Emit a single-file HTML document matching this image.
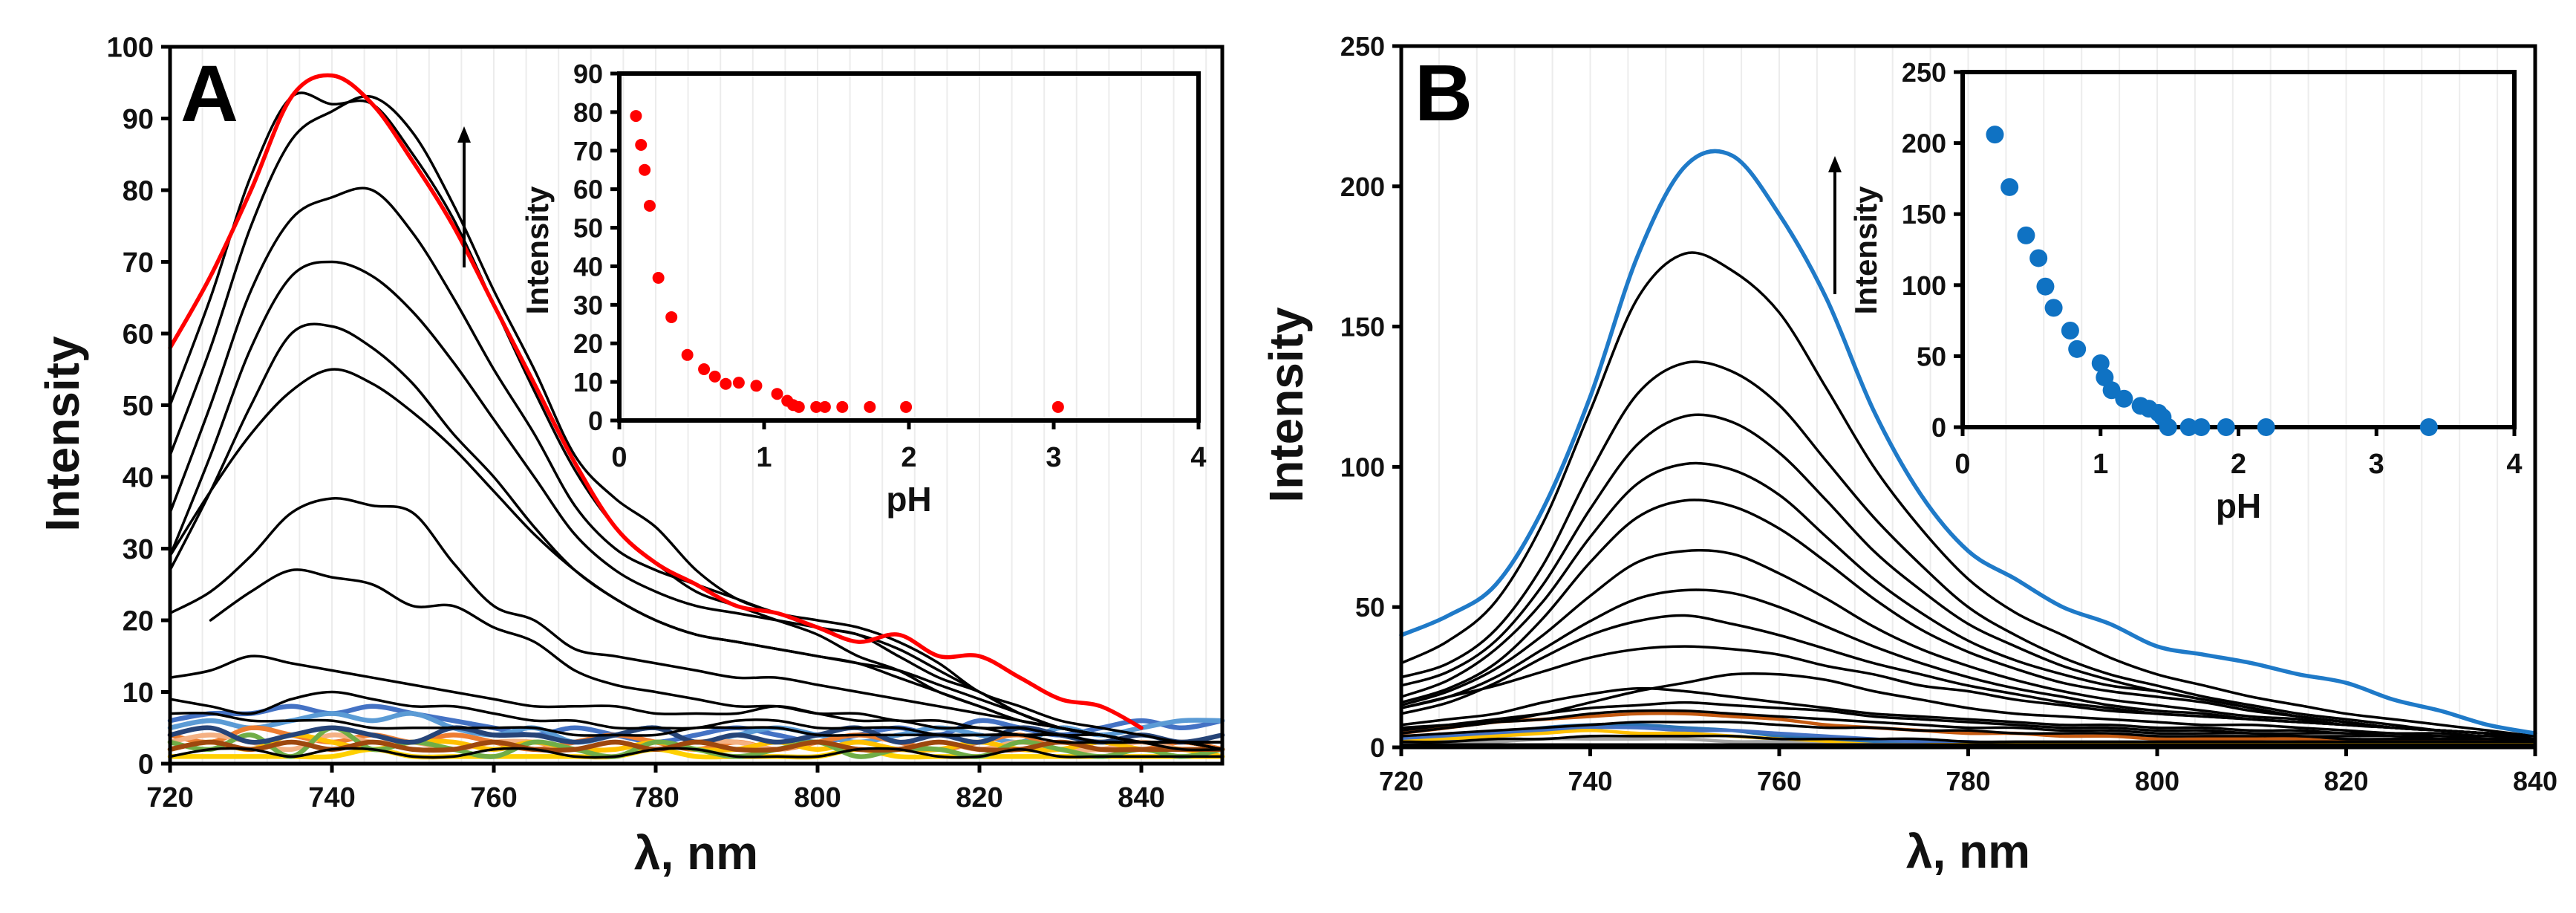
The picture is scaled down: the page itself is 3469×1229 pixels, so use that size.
<!DOCTYPE html>
<html><head><meta charset="utf-8"><style>
html,body{margin:0;padding:0;background:#fff;}
svg{display:block;font-family:"Liberation Sans",Arial,sans-serif;font-weight:bold;}
</style></head><body>
<svg id="fig" width="3469" height="1229" viewBox="0 0 3469 1229" xmlns="http://www.w3.org/2000/svg">
<g id="gA"></g>
<g id="gB"></g>
</svg>
<script>
// ---------- Panel A data ----------
const wlA = [720,725,730,735,740,745,750,755,760,765,770,775,780,785,790,795,800,805,810,815,820,825,830,835,840,845,850];
const redA = [58,68,80,93,96,92,84,75,64,53,42,33,28,25,22,21,19,17,18,15,15,12,9,8,5,null,null];
const blackA = [
 [50,65,82,93,92,92,85,76,64,52,41,33,28,24,22,20,18,15,13,10,8,6,5,4,3,3,2],
 [43,58,75,87,91,93,88,78,66,55,43,37,33,27,23,21,19,18,15,12,10,7,5,4,3,3,3],
 [35,50,66,76,79,80,74,65,55,46,36,30,27,25,23,21,20,19,17,14,10,8,6,5,4,3,3],
 [29,43,58,68,70,68,63,56,48,40,32,27,24,22,21,20,19,18,16,13,10,7,5,4,3,3,3],
 [27,38,50,60,61,58,53,46,40,33,27,23,20,18,17,16,15,14,13,11,9,7,5,4,3,3,2],
 [29,38,46,52,55,53,49,44,38,32,27,23,20,18,17,16,15,14,12,10,8,6,5,4,3,2,2],
 [21,24,29,35,37,36,35,28,22,20,16,15,14,13,12,12,11,10,9,8,7,6,5,4,3,3,2],
 [null,20,24,27,26,25,22,22,19,17,13,11,10,9,8,8,7,7,6,6,5,5,4,4,3,3,2],
 [12,13,15,14,13,12,11,10,9,8,8,8,7,7,7,8,7,6,6,5,5,4,4,3,3,3,3],
 [9,8,7,9,10,9,8,8,7,6,6,5,5,5,6,6,5,5,5,4,4,4,4,3,3,3,3],
 [7,7,6,6,6,5,5,5,5,5,4,4,4,5,5,5,4,4,4,4,4,4,3,3,3,3,3],
 [1,2,2,1,2,2,1,1,2,2,1,1,2,2,1,1,1,2,2,1,1,2,1,1,1,1,1]
];
const colorA = [
 [6,7,7,8,7,8,7,6,5,4,5,4,3,4,5,4,3,4,5,4,6,5,4,5,6,5,6],
 [5,6,5,6,7,6,7,5,4,5,3,4,5,3,4,5,4,3,4,5,4,3,5,4,5,6,6],
 [4,3,5,4,3,4,3,4,3,2,3,4,3,2,3,2,3,4,3,2,3,4,2,3,2,3,2],
 [3,4,3,2,4,3,3,2,3,3,2,3,2,3,3,2,3,2,2,3,2,3,2,2,3,2,2],
 [2,3,2,4,3,2,3,3,2,3,2,2,3,2,2,3,2,3,2,2,3,2,2,3,2,2,1],
 [1,1,1,1,1,2,1,1,1,1,1,1,2,1,1,1,1,2,1,1,1,1,1,1,1,1,1],
 [3,2,4,1,5,2,3,2,1,3,2,1,3,2,1,2,3,1,2,2,1,3,2,1,2,1,2],
 [4,5,3,4,5,4,3,5,4,4,3,4,5,3,4,3,4,5,3,4,3,5,4,3,4,3,4],
 [2,3,2,3,2,3,2,2,3,2,2,3,2,3,2,2,3,2,2,3,2,2,3,2,2,2,2]
];
const colorAcols = ['#4472c4','#5b9bd5','#ed7d31','#f4b183','#ffc000','#ffd000','#70ad47','#264478','#9e480e'];
const insetApH = [0.115,0.15,0.175,0.21,0.27,0.36,0.47,0.585,0.66,0.735,0.825,0.946,1.09,1.16,1.20,1.24,1.36,1.42,1.54,1.73,1.98,3.03];
const insetAI = [79,71.5,65,55.7,37,26.8,17,13.3,11.4,9.5,9.8,9,6.9,5.1,4,3.5,3.5,3.5,3.5,3.5,3.5,3.5];
const xTicksA = [720,740,760,780,800,820,840];
const yTicksA = [0,10,20,30,40,50,60,70,80,90,100];
const insetXTicks = [0,1,2,3,4];
const insetYTicksA = [0,10,20,30,40,50,60,70,80,90];

// ---------- Panel B data ----------
const wlB = [720,725,730,735,740,745,750,755,760,765,770,775,780,785,790,795,800,805,810,815,820,825,830,835,840];
const blueB = [40,47,58,85,125,175,207,211,190,160,120,90,70,60,50,44,36,33,30,26,23,17,13,8,5];
const blackB = [
 [30,38,52,80,120,160,176,170,155,128,100,78,60,48,40,32,26,22,18,15,12,10,8,6,4],
 [25,30,42,65,98,126,137,134,122,102,82,65,50,40,32,26,22,18,15,12,10,8,6,5,4],
 [22,27,38,58,85,108,118,116,105,88,70,56,44,36,29,24,20,17,14,11,9,7,6,5,4],
 [18,24,35,52,75,94,101,99,90,75,60,48,38,31,26,22,20,17,14,11,9,7,6,5,4],
 [16,21,30,46,66,82,88,86,78,66,53,42,34,28,23,20,18,16,13,11,9,7,6,5,4],
 [15,20,28,40,54,66,70,69,62,53,43,35,29,24,20,17,15,13,11,10,8,7,6,5,4],
 [14,18,25,35,45,53,56,55,50,43,36,30,25,21,18,15,13,12,10,9,8,7,6,5,4],
 [12,16,23,32,40,45,47,44,40,35,30,26,22,19,16,14,12,11,10,9,8,7,6,5,4],
 [14,18,22,27,32,35,36,35,33,29,26,22,20,17,15,13,12,11,10,9,8,7,6,5,4],
 [5,7,9,12,16,20,23,26,26,24,20,17,14,12,11,10,9,8,8,7,6,5,5,4,4],
 [8,10,12,16,19,21,20,18,16,14,12,11,10,9,8,8,7,7,6,6,5,5,4,4,3],
 [6,8,10,12,14,15,16,15,14,13,11,10,9,8,7,7,6,6,5,5,5,4,4,3,3],
 [7,8,9,10,12,13,13,12,11,10,9,8,7,7,6,6,5,5,5,4,4,4,3,3,3],
 [4,5,6,7,8,9,9,9,8,7,7,6,6,5,5,5,4,4,4,4,3,3,3,3,2],
 [2,2,3,3,4,4,4,4,3,3,3,3,2,2,2,2,2,2,2,2,2,2,2,2,2],
 [1,1,1,1,1,1,1,1,1,1,1,1,1,1,1,1,1,1,1,1,1,1,1,1,1]
];
const colorB = [
 [5,7,9,10,11,12,12,11,10,8,7,6,5,5,4,4,3,3,3,3,2,2,2,2,2],
 [2,3,5,7,8,8,7,6,4,3,2,2,1,1,1,1,1,1,1,1,1,1,1,1,1],
 [3,4,5,6,7,7,6,6,5,4,3,2,2,1,1,1,1,1,1,1,1,1,1,1,1],
 [2,3,4,5,6,5,5,4,3,2,1,1,1,1,1,1,1,1,1,1,1,1,1,1,1],
 [1,2,2,3,3,3,3,2,2,1,1,1,0.5,0.5,0.5,0.5,0.5,0.5,0.5,0.5,0.5,0.5,0.5,0.5,0.5]
];
const colorBcols = ['#c55a11','#2e75b6','#4472c4','#ffc000','#a5a5a5'];
const insetBpH = [0.234,0.34,0.46,0.55,0.60,0.66,0.78,0.83,1.0,1.03,1.08,1.17,1.29,1.35,1.42,1.45,1.49,1.64,1.73,1.91,2.2,3.38];
const insetBI = [206,169,135,119,99,84,68,55,45,35,26,20,15,13,10,7,0,0,0,0,0,0];
const xTicksB = [720,740,760,780,800,820,840];
const yTicksB = [0,50,100,150,200,250];
const insetYTicksB = [0,50,100,150,200,250];

const NS = 'http://www.w3.org/2000/svg';
function mk(parent, tag, attrs, txt){
  const e = document.createElementNS(NS, tag);
  for (const k in attrs) e.setAttribute(k, attrs[k]);
  if (txt !== undefined) e.textContent = txt;
  parent.appendChild(e);
  return e;
}
function lin(d0,d1,r0,r1){ return v => r0 + (v-d0)/(d1-d0)*(r1-r0); }
// smooth (Catmull-Rom) path through the data points
function pathFrom(xs, ys, sx, sy){
  let segs=[]; let cur=[];
  for (let i=0;i<xs.length;i++){
    if (ys[i]===null || ys[i]===undefined){ if(cur.length) segs.push(cur); cur=[]; continue; }
    cur.push([sx(xs[i]), sy(ys[i])]);
  }
  if (cur.length) segs.push(cur);
  let d='';
  segs.forEach(p=>{
    d += 'M'+p[0][0].toFixed(1)+' '+p[0][1].toFixed(1)+' ';
    for (let i=0;i<p.length-1;i++){
      const p0=p[Math.max(0,i-1)], p1=p[i], p2=p[i+1], p3=p[Math.min(p.length-1,i+2)];
      const c1x=p1[0]+(p2[0]-p0[0])/6, c1y=p1[1]+(p2[1]-p0[1])/6;
      const c2x=p2[0]-(p3[0]-p1[0])/6, c2y=p2[1]-(p3[1]-p1[1])/6;
      d += 'C'+c1x.toFixed(1)+' '+c1y.toFixed(1)+' '+c2x.toFixed(1)+' '+c2y.toFixed(1)+' '+p2[0].toFixed(1)+' '+p2[1].toFixed(1)+' ';
    }
  });
  return d;
}

function panel(g, o){
  const sx = lin(o.x0,o.x1,o.L,o.R), sy = lin(o.y0,o.y1,o.B,o.T);
  for (let v=o.x0+o.gstep; v<o.x1-0.01; v+=o.gstep){
    const gl = mk(g,'line',{x1:sx(v),x2:sx(v),y1:o.T,y2:o.B,stroke:'#ececec','stroke-width':2});
    
    
  }
  const sg = mk(g,'g',{fill:'none','stroke-linejoin':'round','stroke-linecap':'round'});
  
  
  o.colored.forEach((arr,i)=>{
    const p = mk(sg,'path',{d:pathFrom(o.wl,arr,sx,sy),stroke:o.ccols[i],'stroke-width':o.cw});
    
    
  });
  o.black.forEach(arr=>{
    const p = mk(sg,'path',{d:pathFrom(o.wl,arr,sx,sy),stroke:'#000','stroke-width':3.5});
    
    
  });
  const hp = mk(sg,'path',{d:pathFrom(o.wl,o.hi,sx,sy),stroke:o.hicol,'stroke-width':5.5});
  
  
  const fr = mk(g,'rect',{x:o.L,y:o.T,width:o.R-o.L,height:o.B-o.T,fill:'none',stroke:'#000','stroke-width':5});
  
  
  o.xt.forEach(v=>{
    const t = mk(g,'line',{x1:sx(v),x2:sx(v),y1:o.B,y2:o.B+12,stroke:'#000','stroke-width':5});
    
    
    const l = mk(g,'text',{x:sx(v),y:o.B+58,'font-size':o.fs,'text-anchor':'middle',fill:'#111'},String(v));
    
    
  });
  o.yt.forEach(v=>{
    const t = mk(g,'line',{x1:o.L-12,x2:o.L,y1:sy(v),y2:sy(v),stroke:'#000','stroke-width':5});
    
    
    const l = mk(g,'text',{x:o.L-22,y:sy(v)+o.fs*0.36,'font-size':o.fs,'text-anchor':'end',fill:'#111'},String(v));
    
    
  });
  const xt = mk(g,'text',{x:(o.L+o.R)/2,y:o.xtY,'font-size':64,'text-anchor':'middle',fill:'#111'},'λ, nm');
  
  
  const yt = mk(g,'text',{x:0,y:0,'font-size':64,'text-anchor':'middle',transform:`translate(${o.ytX},${o.ytY}) rotate(-90)`,fill:'#111'},'Intensity');
  
  
  const pl = mk(g,'text',{x:o.labX,y:o.labY,'font-size':108,fill:'#000'},o.label);
  
  
  const ar = mk(g,'line',{x1:o.arX,x2:o.arX,y1:o.arY1,y2:o.arY0+18,stroke:'#000','stroke-width':4});
  
  
  const ah = mk(g,'polygon',{points:`${o.arX},${o.arY0} ${o.arX-9},${o.arY0+22} ${o.arX+9},${o.arY0+22}`,fill:'#000'});
  
  
  const ig = mk(g,'g',{});
  
  
  const ix = lin(0,4,o.iL,o.iR), iy = lin(0,o.iymax,o.iB,o.iT);
  const ifr = mk(ig,'rect',{x:o.iL,y:o.iT,width:o.iR-o.iL,height:o.iB-o.iT,fill:'none',stroke:'#000','stroke-width':6});
  
  
  insetXTicks.forEach(v=>{
    const t = mk(ig,'line',{x1:ix(v),x2:ix(v),y1:o.iB,y2:o.iB+12,stroke:'#000','stroke-width':5});
    
    
    const l = mk(ig,'text',{x:ix(v),y:o.iB+62,'font-size':38,'text-anchor':'middle',fill:'#111'},String(v));
    
    
  });
  o.iyt.forEach(v=>{
    const t = mk(ig,'line',{x1:o.iL-12,x2:o.iL,y1:iy(v),y2:iy(v),stroke:'#000','stroke-width':5});
    
    
    const l = mk(ig,'text',{x:o.iL-22,y:iy(v)+13,'font-size':36,'text-anchor':'end',fill:'#111'},String(v));
    
    
  });
  o.ipH.forEach((p,i)=>{
    const c = mk(ig,'ellipse',{cx:ix(p),cy:iy(o.iI[i]),rx:o.ir,ry:o.ir,fill:o.icol});
    
    
  });
  const ixt = mk(ig,'text',{x:(o.iL+o.iR)/2,y:o.iB+122,'font-size':46,'text-anchor':'middle',fill:'#111'},'pH');
  
  
  const iyt = mk(ig,'text',{x:0,y:0,'font-size':42,'text-anchor':'middle',transform:`translate(${o.iytX},${o.iytY}) rotate(-90)`,fill:'#111'},'Intensity');
  
  
}

panel(document.getElementById('gA'),{
  x0:720,x1:850,y0:0,y1:100,L:229,R:1646,T:63,B:1028,gstep:4,cw:6.5,
  wl:wlA,black:blackA,colored:colorA,ccols:colorAcols,hi:redA,hicol:'#ff0000',
  xt:xTicksA,yt:yTicksA,fs:38,xtY:1170,ytX:106,ytY:584,
  label:'A',labX:243,labY:163,arX:625,arY0:170,arY1:360,
  iL:834,iR:1614,iT:99,iB:566,iymax:90,iyt:insetYTicksA,ipH:insetApH,iI:insetAI,ir:8,icol:'#ff0000',iytX:738,iytY:337
});
panel(document.getElementById('gB'),{
  x0:720,x1:840,y0:0,y1:250,L:1887,R:3414,T:62,B:1006,gstep:4,cw:4.5,
  wl:wlB,black:blackB,colored:colorB,ccols:colorBcols,hi:blueB,hicol:'#1f7ac8',
  xt:xTicksB,yt:yTicksB,fs:36,xtY:1168,ytX:1754,ytY:545,
  label:'B',labX:1905,labY:162,arX:2471,arY0:210,arY1:396,
  iL:2643,iR:3386,iT:97,iB:575,iymax:250,iyt:insetYTicksB,ipH:insetBpH,iI:insetBI,ir:12,icol:'#0f72c3',iytX:2527,iytY:337
});
</script>
</body></html>
